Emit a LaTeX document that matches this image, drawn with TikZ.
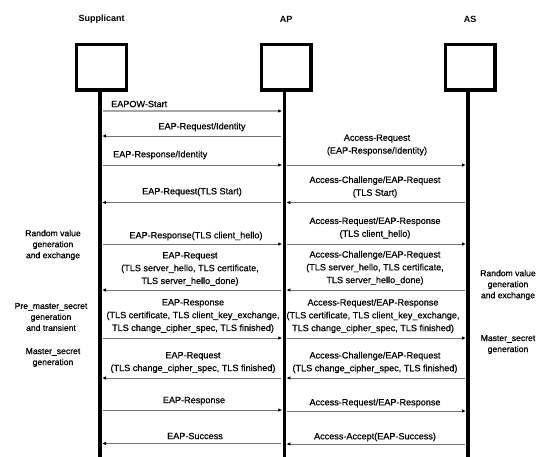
\documentclass[tikz,border=0pt]{standalone}
\usepackage{fontspec}
\setmainfont{Liberation Sans}
\newfontface\heavyface{Liberation Sans}[FakeBold=0.6]
\usetikzlibrary{arrows.meta}
\tikzset{
  actor/.style={draw, line width=3.3pt, minimum width=49.7pt, minimum height=45.7pt, inner sep=0pt},
  lifeline/.style={line width=3.5pt},
  msg/.style={draw=black!55, line width=0.8pt, shorten <=3pt, shorten >=2.5pt,
    -{Triangle[length=3.5pt,width=3pt,color=black]}},
  lbl/.style={font=\heavyface\fontsize{9.1}{12.8}\selectfont, align=center, inner sep=0pt},
  note/.style={font=\heavyface\fontsize{8.6}{11}\selectfont, align=center, inner sep=0pt},
  head/.style={font=\fontsize{9}{11}\selectfont\bfseries, inner sep=0pt}
}
% message from lifeline #1 to lifeline #2 at height #3
\newcommand{\msg}[3]{\draw[msg] (#1 |- 0,#3) -- (#2 |- 0,#3);}

\begin{document}
\begin{tikzpicture}[x=1pt,y=-1pt]
    \useasboundingbox (0,0) rectangle (538,457);

    % actors
    \node[head] (hsup) at (101.5,19) {Supplicant};
    \node[head] (hap) at (286,19) {AP};
    \node[head] (has) at (470,19) {AS};
    \node[actor] (sup) at (101.5,67.2) {};
    \node[actor] (ap) at (286,67.2) {};
    \node[actor] (as) at (470,67.2) {};

    \coordinate (supL) at (100,0);
    \coordinate (apL) at (284.3,0);
    \coordinate (asL) at (468,0);

    % Supplicant <-> AP
    \draw[msg, draw=black!35, line width=1.2pt] (supL |- 0,111) -- (apL |- 0,111);
    \node[lbl, anchor=west] (m1) at (111,104) {EAPOW-Start};
    \msg{apL}{supL}{136}
    \node[lbl] (m2) at (202,127) {EAP-Request/Identity};
    \msg{supL}{apL}{165}
    \node[lbl, anchor=west] (m3) at (113,155) {EAP-Response/Identity};
    \msg{apL}{supL}{202.5}
    \node[lbl] (m4) at (192,192) {EAP-Request(TLS Start)};
    \msg{supL}{apL}{244}
    \node[lbl] (m5) at (196,236) {EAP-Response(TLS client\_hello)};
    \msg{apL}{supL}{290}
    \node[lbl] (m6) at (190,269) {EAP-Request\\(TLS server\_hello, TLS certificate,\\TLS server\_hello\_done)};
    \msg{supL}{apL}{338}
    \node[lbl] (m7) at (193,316) {EAP-Response\\(TLS certificate, TLS client\_key\_exchange,\\TLS change\_cipher\_spec, TLS finished)};
    \msg{apL}{supL}{378}
    \node[lbl] (m8) at (193,362.5) {EAP-Request\\(TLS change\_cipher\_spec, TLS finished)};
    \msg{supL}{apL}{410}
    \node[lbl] (m9) at (194,401) {EAP-Response};
    \msg{apL}{supL}{443.5}
    \node[lbl] (m10) at (195,436) {EAP-Success};

    % AP <-> AS
    \msg{apL}{asL}{165}
    \node[lbl] (r3) at (377,145) {Access-Request\\(EAP-Response/Identity)};
    \msg{asL}{apL}{202.5}
    \node[lbl] (r4) at (375,187) {Access-Challenge/EAP-Request\\(TLS Start)};
    \msg{apL}{asL}{244}
    \node[lbl] (r5) at (375,228) {Access-Request/EAP-Response\\(TLS client\_hello)};
    \msg{asL}{apL}{290}
    \node[lbl] (r6) at (375,268) {Access-Challenge/EAP-Request\\(TLS server\_hello, TLS certificate,\\TLS server\_hello\_done)};
    \msg{apL}{asL}{338}
    \node[lbl] (r7) at (373,316) {Access-Request/EAP-Response\\(TLS certificate, TLS client\_key\_exchange,\\TLS change\_cipher\_spec, TLS finished)};
    \msg{asL}{apL}{378}
    \node[lbl] (r8) at (375,362.5) {Access-Challenge/EAP-Request\\(TLS change\_cipher\_spec, TLS finished)};
    \msg{apL}{asL}{411}
    \node[lbl] (r9) at (375,403) {Access-Request/EAP-Response};
    \msg{asL}{apL}{444}
    \node[lbl] (r10) at (375,437) {Access-Accept(EAP-Success)};

    % side notes
    \node[note] (n1) at (53,245) {Random value\\generation\\and exchange};
    \node[note] (n2) at (51,317) {Pre\_master\_secret\\generation\\and transient};
    \node[note] (n3) at (53,357.5) {Master\_secret\\generation};
    \node[note] (n4) at (508,285) {Random value\\generation\\and exchange};
    \node[note] (n5) at (508,344.5) {Master\_secret\\generation};

    % lifelines
    \draw[lifeline] (supL |- sup.south) -- (supL |- 0,457);
    \draw[lifeline] (apL |- ap.south) -- (apL |- 0,457);
    \draw[lifeline] (asL |- as.south) -- (asL |- 0,457);
\end{tikzpicture}
\end{document}
